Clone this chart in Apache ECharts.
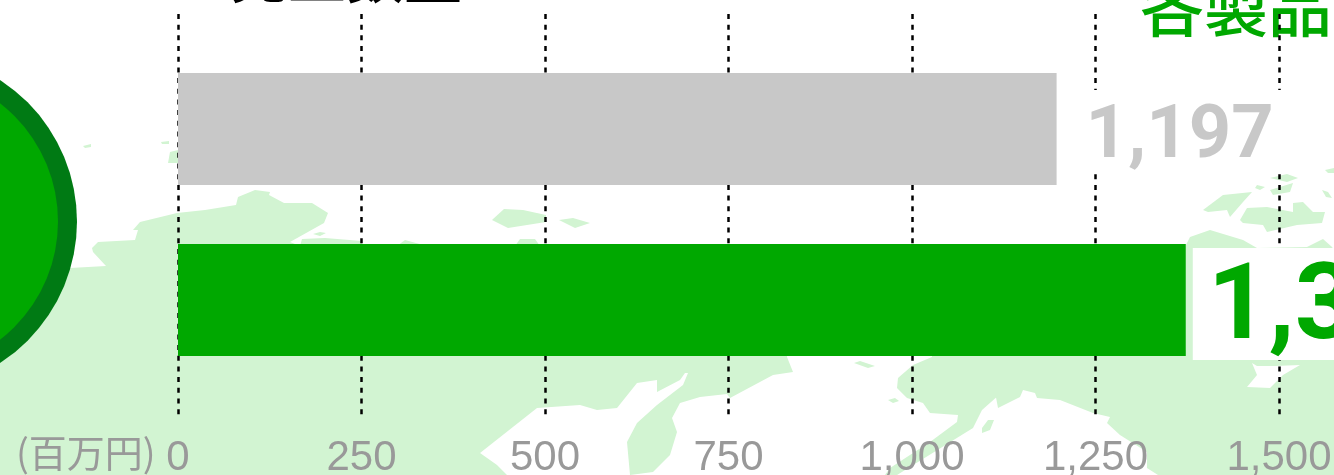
<!DOCTYPE html>
<html><head><meta charset="utf-8">
<style>html,body{margin:0;padding:0;background:#fff;overflow:hidden}#c{width:1334px;height:475px}</style>
<script src="https://cdn.jsdelivr.net/npm/echarts@6/dist/echarts.min.js"></script>
</head><body><div id="c"></div>
<script>
const categories = ['売上数量'];
const previousValues = [1197];
const currentValues = [1373];
const tickValues = [0, 250, 500, 750, 1000, 1250, 1500];
const unitLabel = '(百万円)';
const leftTitle = '売上数量';
const rightTitle = '各製品';

const landColor = '#d2f4d2';
const lands = [
 [[0,475],[0,350],[70,268],[106,266],[93,252],[92,248],[98,242],[135,240],[138,230],[133,230],[140,222],[177,213],[205,210],[236,205],[238,197],[255,190],[270,192],[269,195],[284,203],[312,203],[328,213],[324,223],[290,242],[300,246],[787,350],[787,357],[793,372],[773,375],[730,398],[727,394],[700,397],[680,403],[672,418],[677,432],[670,455],[653,472],[630,475],[627,442],[637,423],[657,405],[683,385],[688,373],[685,373],[680,380],[657,392],[657,380],[637,383],[617,408],[597,410],[580,405],[537,408],[480,453],[497,465],[507,475]],
 [[932,350],[932,357],[913,365],[898,378],[897,388],[907,398],[923,403],[930,413],[958,415],[957,422],[930,442],[890,468],[885,475],[897,475],[973,428],[982,410],[1008,387],[995,392],[998,408],[1020,397],[1023,390],[1035,393],[1037,398],[1060,400],[1093,413],[1110,417],[1107,423],[1120,435],[1147,452],[1147,468],[1158,475],[1334,475],[1334,250],[1332,247],[1323,239],[1307,247],[1257,248],[1243,240],[1210,230],[1190,237],[1186,245],[1186,350]],
 [[492,220],[504,209],[523,210],[546,215],[546,222],[508,228]],
 [[559,220],[573,218],[590,223],[575,228]],
 [[313,234],[320,232],[326,233],[320,236]],
 [[300,246],[302,239],[325,238],[362,241],[362,246]],
 [[397,246],[405,240],[427,246]],
 [[515,246],[520,239],[535,239],[540,246]],
 [[168,163],[170,152],[178,150],[178,163]],
 [[161,142],[169,141],[169,144],[162,144]],
 [[83,146],[91,144],[91,147],[85,148]],
 [[1203,210],[1223,195],[1252,192],[1243,202],[1230,217],[1227,210],[1208,212]],
 [[1240,220],[1247,208],[1267,207],[1293,212],[1293,203],[1303,202],[1313,212],[1325,212],[1322,223],[1297,225],[1267,232],[1263,225],[1243,223]],
 [[1270,178],[1287,174],[1298,178],[1287,182]],
 [[1270,190],[1293,183],[1290,192],[1273,195]],
 [[1257,185],[1265,187],[1260,190],[1255,188]],
 [[1322,190],[1328,192],[1332,198],[1326,197]],
 [[1325,170],[1334,168],[1334,173],[1328,173]],
 [[854,363],[860,361],[875,366],[868,368]],
 [[888,400],[895,398],[899,401],[893,403]],
 [[982,428],[988,420],[994,420],[990,430],[982,433]]
];
const seaBay = [[1252,363],[1257,366],[1275,366],[1300,365],[1283,375],[1270,388],[1247,387],[1257,375]];

const poly = (pts, fill, z) => ({type:'polygon', silent:true, z, shape:{points:pts}, style:{fill}});

const graphic = [
  ...lands.map(p => poly(p, landColor, -5)),
  poly(seaBay, '#ffffff', -4),
  {type:'circle', z:20, silent:true, shape:{cx:-91.5, cy:221.5, r:168.5}, style:{fill:'#007a14'}},
  {type:'circle', z:21, silent:true, shape:{cx:-91.5, cy:221.5, r:149.5}, style:{fill:'#00a800'}},
  {type:'text', z:-3, silent:true, left:230, top:-53, style:{text:leftTitle, fill:'#000', font:'500 58px "Noto Sans CJK JP"'}},
  {type:'text', z:-3, silent:true, left:1140, top:-25, style:{text:rightTitle, fill:'#00a800', font:'500 64px "Noto Sans CJK JP"'}},
  {type:'text', z:5, silent:true, left:16, top:434, style:{text:unitLabel, fill:'#999', font:'38px "Noto Sans CJK JP"'}}
];

const chart = echarts.init(document.getElementById('c'), null, {renderer:'canvas'});
chart.setOption({
  animation:false,
  backgroundColor:'#fff',
  graphic,
  grid:{left:178, width:1101, top:14, height:401, outerBoundsMode:'none'},
  xAxis:{type:'value', min:tickValues[0], max:tickValues[tickValues.length-1], interval:250,
    axisLine:{show:false}, axisTick:{show:false},
    axisLabel:{show:true, color:'#999', fontFamily:'"Liberation Sans"', fontSize:42, margin:22,
      formatter:v=>v.toLocaleString('en-US')},
    splitLine:{show:true, lineStyle:{color:'#000', width:2.5, type:[5,5.68]}}},
  yAxis:{type:'category', data:categories, inverse:true, show:false},
  series:[
    {name:'前年', type:'bar', data:previousValues, barWidth:112, barGap:'52.7%',
      itemStyle:{color:'#c8c8c8'},
      label:{show:true, position:'right', distance:7, offset:[0,3], formatter:p=>'{v|'+p.value.toLocaleString('en-US')+'}',
        backgroundColor:'#fff', padding:[0,9,0,22],
        rich:{v:{color:'#c8c8c8', fontFamily:'Roboto', fontWeight:'bold', fontSize:74, height:84, lineHeight:84, padding:[14,0,0,0]}}}},
    {name:'当年', type:'bar', data:currentValues, barWidth:112,
      itemStyle:{color:'#00a800'},
      label:{show:true, position:'right', distance:7, offset:[0,4], formatter:p=>'{v|'+p.value.toLocaleString('en-US')+'}',
        backgroundColor:'#fff', padding:[0,10,0,15],
        rich:{v:{color:'#00a800', fontFamily:'Roboto', fontWeight:'bold', fontSize:106, height:112, lineHeight:112, padding:[14,0,0,0]}}}}
  ]
});
</script></body></html>
